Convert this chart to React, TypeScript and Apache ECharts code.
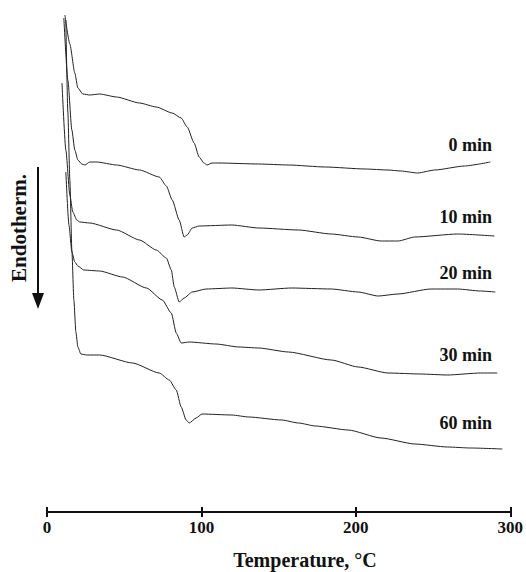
import React, { useEffect, useRef } from "react";
import * as echarts from "echarts";

// Temperature (°C) vs. heat-flow signal (arbitrary units, offset traces)
const curveNames = ["0 min", "10 min", "20 min", "30 min", "60 min"];

const trace0min = [
  [11.6, 497], [14.8, 468], [18.0, 439], [20.0, 424], [23.2, 418], [27.7, 417], [34.1, 418],
  [45.1, 415], [59.9, 409], [70.8, 405], [81.1, 399], [86.9, 394], [90.8, 385], [95.3, 369],
  [98.5, 355], [101.7, 349], [103.6, 347], [106.9, 349], [111.4, 349], [137.1, 348],
  [156.4, 347], [180.3, 345], [206.0, 343], [220.8, 342], [229.2, 341], [240.1, 339],
  [251.1, 342], [270.4, 346], [287.1, 350],
];

const trace10min = [
  [10.9, 494], [13.5, 432], [16.1, 382], [18.0, 362], [20.0, 352], [22.5, 348], [24.5, 347],
  [27.7, 350], [32.2, 350], [45.1, 347], [59.9, 342], [72.7, 335], [77.3, 326], [81.1, 312],
  [85.6, 292], [88.8, 275], [90.8, 277], [94.0, 284], [98.5, 286], [119.7, 287], [137.1, 284],
  [162.9, 282], [184.1, 278], [201.5, 275], [216.3, 271], [227.3, 271], [238.2, 275],
  [265.9, 278], [289.7, 276],
];

const trace20min = [
  [9.7, 429], [12.2, 362], [14.8, 317], [16.7, 300], [19.3, 292], [21.2, 290], [27.7, 289],
  [45.1, 282], [59.9, 272], [70.8, 262], [77.3, 254], [80.5, 242], [82.4, 225], [85.6, 210],
  [88.8, 214], [94.0, 220], [103.0, 223], [119.7, 224], [137.1, 222], [158.4, 224],
  [184.1, 223], [201.5, 220], [214.4, 216], [227.3, 218], [248.5, 223], [265.9, 223],
  [280.7, 221], [290.3, 220],
];

const trace30min = [
  [12.2, 340], [14.2, 287], [16.1, 260], [18.0, 250], [20.0, 246], [23.8, 242], [34.1, 241],
  [48.9, 235], [64.4, 224], [74.7, 212], [80.5, 199], [83.7, 179], [86.9, 169], [92.1, 170],
  [109.4, 168], [124.3, 165], [137.1, 164], [156.4, 160], [184.1, 152], [201.5, 145],
  [220.8, 139], [242.1, 138], [259.4, 137], [280.7, 139], [291.6, 139],
];

const trace60min = [
  [12.2, 492], [13.5, 400], [14.8, 332], [16.1, 262], [17.4, 212], [18.7, 180], [20.0, 165],
  [21.9, 158], [25.8, 157], [34.1, 157], [55.4, 149], [72.7, 139], [79.2, 132], [83.7, 122],
  [86.9, 105], [90.1, 92], [92.1, 89], [96.6, 94], [100.4, 98], [119.7, 97], [130.7, 95],
  [151.9, 92], [162.9, 89], [173.8, 86], [195.1, 82], [216.3, 74], [238.2, 68], [259.4, 65],
  [274.3, 64], [294.9, 63],
];

const traces = [trace0min, trace10min, trace20min, trace30min, trace60min];
const xMin = 0;
const xMax = 300;
const xInterval = 100;

const FONT = "'Liberation Serif', 'Times New Roman', serif";

export default function App() {
  const ref = useRef<HTMLDivElement>(null);

  useEffect(() => {
    if (!ref.current) return;
    const chart = echarts.init(ref.current, null, { renderer: "svg" });

    const labelPos = [
      [492, 145],
      [492, 217],
      [492, 273],
      [492, 355],
      [492, 423],
    ];

    chart.setOption({
      animation: false,
      backgroundColor: "#ffffff",
      grid: { left: 47, right: 13, top: 0, bottom: 60, containLabel: false },
      xAxis: [
        {
          type: "value",
          min: xMin,
          max: xMax,
          interval: xInterval,
          position: "bottom",
          axisLine: { show: true, lineStyle: { color: "#111", width: 2 } },
          axisTick: { show: true, inside: false, length: 5, lineStyle: { color: "#111", width: 2 } },
          axisLabel: {
            color: "#111",
            fontFamily: FONT,
            fontWeight: "bold",
            fontSize: 17,
            margin: 7,
          },
          splitLine: { show: false },
        },
        {
          type: "value",
          min: xMin,
          max: xMax,
          interval: xInterval,
          position: "bottom",
          offset: 0,
          axisLine: { show: false },
          axisTick: { show: true, inside: true, length: 5, lineStyle: { color: "#111", width: 2 } },
          axisLabel: { show: false },
          splitLine: { show: false },
        },
      ],
      yAxis: {
        type: "value",
        min: 0,
        max: 512,
        show: false,
        splitLine: { show: false },
      },
      series: traces.map((d, i) => ({
        name: curveNames[i],
        type: "line",
        xAxisIndex: 0,
        data: d,
        showSymbol: false,
        smooth: 0.2,
        smoothMonotone: "x",
        lineStyle: { color: "#222", width: 1 },
        silent: true,
      })),
      graphic: [
        ...curveNames.map((name, i) => ({
          type: "text",
          x: labelPos[i][0],
          y: labelPos[i][1],
          style: {
            text: name,
            fill: "#111",
            font: `bold 18px ${FONT}`,
            align: "right",
            verticalAlign: "middle",
          },
        })),
        {
          type: "text",
          x: 305,
          y: 560,
          style: {
            text: "Temperature, °C",
            fill: "#111",
            font: `bold 20px ${FONT}`,
            align: "center",
            verticalAlign: "middle",
          },
        },
        {
          type: "text",
          x: 19,
          y: 228,
          rotation: Math.PI / 2,
          style: {
            text: "Endotherm.",
            fill: "#111",
            font: `bold 21px ${FONT}`,
            align: "center",
            verticalAlign: "middle",
          },
        },
        {
          type: "line",
          shape: { x1: 38, y1: 167, x2: 38, y2: 296 },
          style: { stroke: "#111", lineWidth: 2 },
        },
        {
          type: "polygon",
          shape: { points: [[32, 293], [44, 293], [38, 309]] },
          style: { fill: "#111" },
        },
      ],
    });

    return () => chart.dispose();
  }, []);

  return (
    <div
      ref={ref}
      style={{ position: "fixed", left: 0, top: 0, width: 526, height: 572, background: "#fff" }}
    />
  );
}
